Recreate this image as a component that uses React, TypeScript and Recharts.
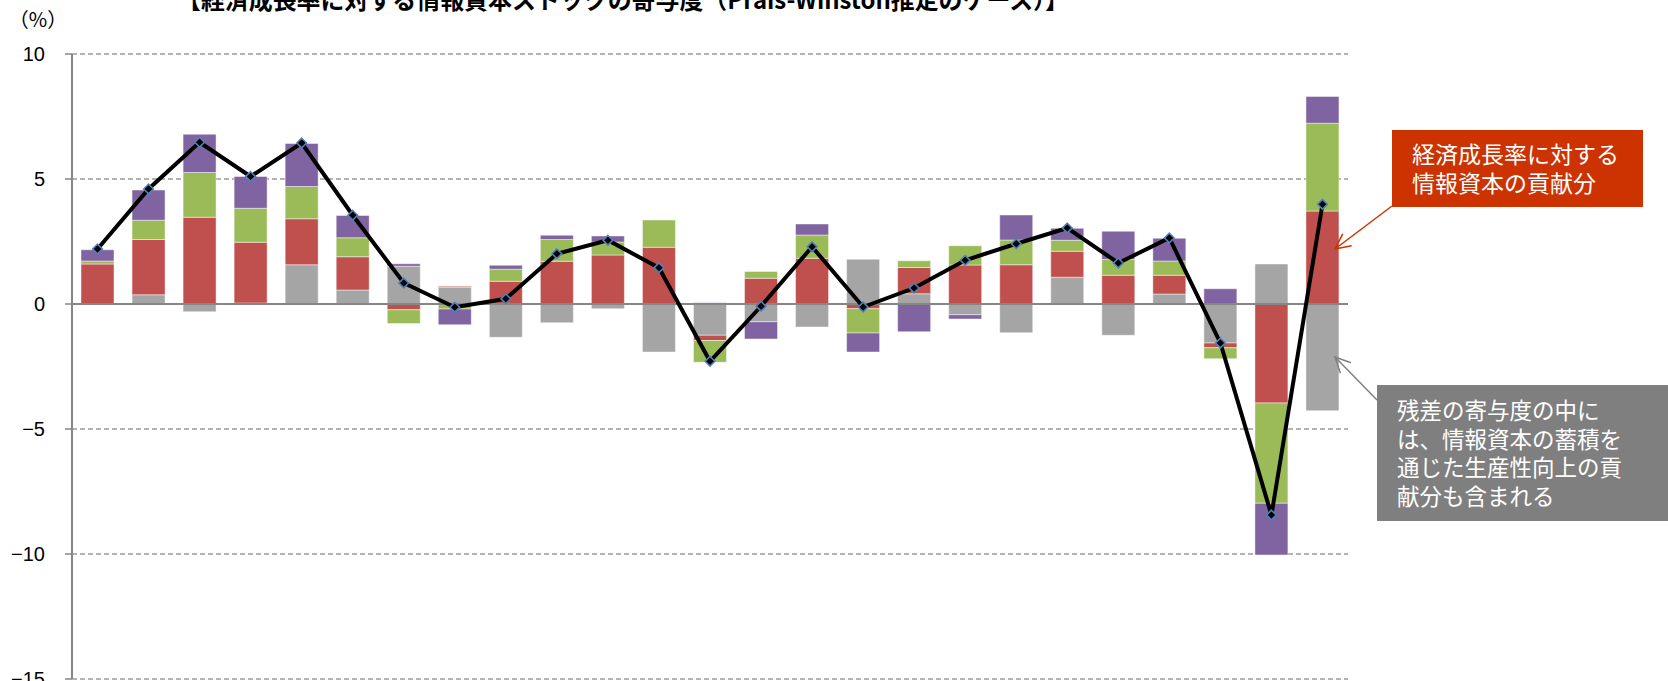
import React from "react";
import { ComposedChart, Bar, Line, XAxis, YAxis, CartesianGrid, ReferenceLine } from "recharts";

const years = [
  "1986", "1987", "1988", "1989", "1990", "1991", "1992", "1993", "1994", "1995",
  "1996", "1997", "1998", "1999", "2000", "2001", "2002", "2003", "2004", "2005",
  "2006", "2007", "2008", "2009", "2010",
];
// 残差
const residual = [0.02, 0.37, -0.31, 0.04, 1.57, 0.56, 1.51, 0.67, -1.33, -0.75, -0.19, -1.92, -1.25, -0.71, -0.92, 1.79, 0.41, -0.43, -1.15, 1.07, -1.25, 0.4, -1.56, 1.6, -4.27];
// 情報資本
const itCapital = [1.58, 2.21, 3.47, 2.43, 1.84, 1.33, -0.23, 0.04, 0.91, 1.71, 1.96, 2.27, -0.21, 1.03, 1.83, -0.19, 1.05, 1.56, 1.57, 1.04, 1.15, 0.75, -0.19, -3.96, 3.72];
// 一般資本
const otherCapital = [0.12, 0.77, 1.79, 1.36, 1.29, 0.76, -0.55, -0.2, 0.48, 0.87, 0.52, 1.09, -0.87, 0.27, 0.93, -0.97, 0.27, 0.77, 0.99, 0.44, 0.63, 0.57, -0.44, -4.01, 3.51];
// 労働投入
const labor = [0.45, 1.21, 1.53, 1.27, 1.72, 0.89, 0.1, -0.63, 0.16, 0.17, 0.24, 0.0, 0.05, -0.69, 0.44, -0.76, -1.11, -0.17, 1.0, 0.48, 1.13, 0.91, 0.61, -2.07, 1.07];
// 経済成長率
const growth = [2.2, 4.6, 6.47, 5.1, 6.44, 3.55, 0.84, -0.13, 0.21, 2.01, 2.55, 1.45, -2.29, -0.09, 2.29, -0.12, 0.64, 1.75, 2.41, 3.04, 1.64, 2.64, -1.56, -8.44, 3.99];

const yTicks = [-15, -10, -5, 0, 5, 10];
const frameTicks = Array.from({ length: years.length + 1 }, (_, i) => i);

const data = years.map((y, i) => ({
  year: y,
  residual: residual[i],
  itCapital: itCapital[i],
  otherCapital: otherCapital[i],
  labor: labor[i],
  growth: growth[i],
}));

const Diamond = (props: any) => {
  const { cx, cy } = props;
  if (cx == null || cy == null) return null;
  const r = 4.8;
  return (
    <polygon
      points={`${cx},${cy - r} ${cx + r},${cy} ${cx},${cy + r} ${cx - r},${cy}`}
      fill="#000"
      stroke="#4F81BD"
      strokeWidth={1.6}
    />
  );
};

const fmt = (v: number) => (v < 0 ? "\u2212" + Math.abs(v) : String(v));

function Arrow({ x1, y1, x2, y2, color }: { x1: number; y1: number; x2: number; y2: number; color: string }) {
  const ang = Math.atan2(y2 - y1, x2 - x1);
  const len = 17;
  const a1 = ang + Math.PI - 0.45;
  const a2 = ang + Math.PI + 0.45;
  return (
    <g stroke={color} strokeWidth={1.5} fill="none">
      <line x1={x1} y1={y1} x2={x2} y2={y2} />
      <polyline
        points={`${x2 + len * Math.cos(a1)},${y2 + len * Math.sin(a1)} ${x2},${y2} ${x2 + len * Math.cos(a2)},${y2 + len * Math.sin(a2)}`}
      />
    </g>
  );
}

const cjk = "'Noto Sans CJK JP', 'Noto Sans', sans-serif";
const barStroke = "rgba(255,255,255,0.45)";

export default function App() {
  return (
    <div style={{ position: "absolute", left: 0, top: 0, width: 1668, height: 681, overflow: "hidden", background: "#fff" }}>
      <ComposedChart
        width={1668}
        height={720}
        data={data}
        stackOffset="sign"
        barCategoryGap={18}
        margin={{ top: 54, right: 320, bottom: 41, left: 0 }}
      >
        <CartesianGrid horizontal vertical={false} stroke="#9a9a9a" strokeWidth={1.3} strokeDasharray="5 3" />
        <XAxis dataKey="year" xAxisId="cat" hide />
        <XAxis
          xAxisId="frame"
          type="number"
          domain={[0, years.length]}
          ticks={frameTicks}
          interval={0}
          allowDataOverflow
          height={0}
          tick={false}
          tickSize={4}
          axisLine={{ stroke: "#868686", strokeWidth: 2 }}
          tickLine={{ stroke: "#868686", strokeWidth: 1.5 }}
        />
        <YAxis
          domain={[-15, 10]}
          ticks={yTicks}
          interval={0}
          width={72}
          tickSize={7}
          tickMargin={20}
          tickFormatter={fmt}
          tick={{ fill: "#000", fontSize: 20, fontFamily: "'Liberation Sans', Arial, sans-serif" }}
          axisLine={{ stroke: "#868686", strokeWidth: 2 }}
          tickLine={{ stroke: "#868686", strokeWidth: 1.5 }}
        />
        <Bar xAxisId="cat" dataKey="residual" name="残差" stackId="a" fill="#A5A5A5" stroke={barStroke} strokeWidth={1} barSize={33} isAnimationActive={false} />
        <Bar xAxisId="cat" dataKey="itCapital" name="情報資本" stackId="a" fill="#C0504D" stroke={barStroke} strokeWidth={1} barSize={33} isAnimationActive={false} />
        <Bar xAxisId="cat" dataKey="otherCapital" name="一般資本" stackId="a" fill="#9BBB59" stroke={barStroke} strokeWidth={1} barSize={33} isAnimationActive={false} />
        <Bar xAxisId="cat" dataKey="labor" name="労働投入" stackId="a" fill="#8064A2" stroke={barStroke} strokeWidth={1} barSize={33} isAnimationActive={false} />
        <ReferenceLine xAxisId="cat" y={0} stroke="#868686" strokeWidth={2} />
        <Line
          xAxisId="cat"
          dataKey="growth"
          name="経済成長率"
          type="linear"
          stroke="#000"
          strokeWidth={4}
          dot={<Diamond />}
          activeDot={false}
          isAnimationActive={false}
        />
      </ComposedChart>
      <svg width={1668} height={681} style={{ position: "absolute", left: 0, top: 0, pointerEvents: "none" }}>
        <text
          x={623}
          y={9}
          textAnchor="middle"
          fontFamily={cjk}
          fontWeight={700}
          fontSize={25}
          fill="#000"
          textLength={892}
          lengthAdjust="spacingAndGlyphs"
        >
          【経済成長率に対する情報資本ストックの寄与度（Prais-Winston推定のケース）】
        </text>
        <text x={38} y={27} textAnchor="middle" fontFamily={cjk} fontSize={20} fill="#000">
          （%）
        </text>

        <rect x={1392} y={130} width={251} height={77} fill="#CC3300" />
        <text fontFamily={cjk} fontSize={23} fill="#fff">
          <tspan x={1412} y={163}>経済成長率に対する</tspan>
          <tspan x={1412} y={192}>情報資本の貢献分</tspan>
        </text>
        <Arrow x1={1392} y1={206} x2={1335} y2={249} color="#CC3300" />

        <rect x={1377} y={385} width={291} height={136} fill="#7F7F7F" />
        <text fontFamily={cjk} fontSize={22.5} fill="#fff">
          <tspan x={1397} y={419}>残差の寄与度の中に</tspan>
          <tspan x={1397} y={448}>は、情報資本の蓄積を</tspan>
          <tspan x={1397} y={476}>通じた生産性向上の貢</tspan>
          <tspan x={1397} y={505}>献分も含まれる</tspan>
        </text>
        <Arrow x1={1377} y1={400} x2={1335} y2={357} color="#808080" />
      </svg>
    </div>
  );
}
